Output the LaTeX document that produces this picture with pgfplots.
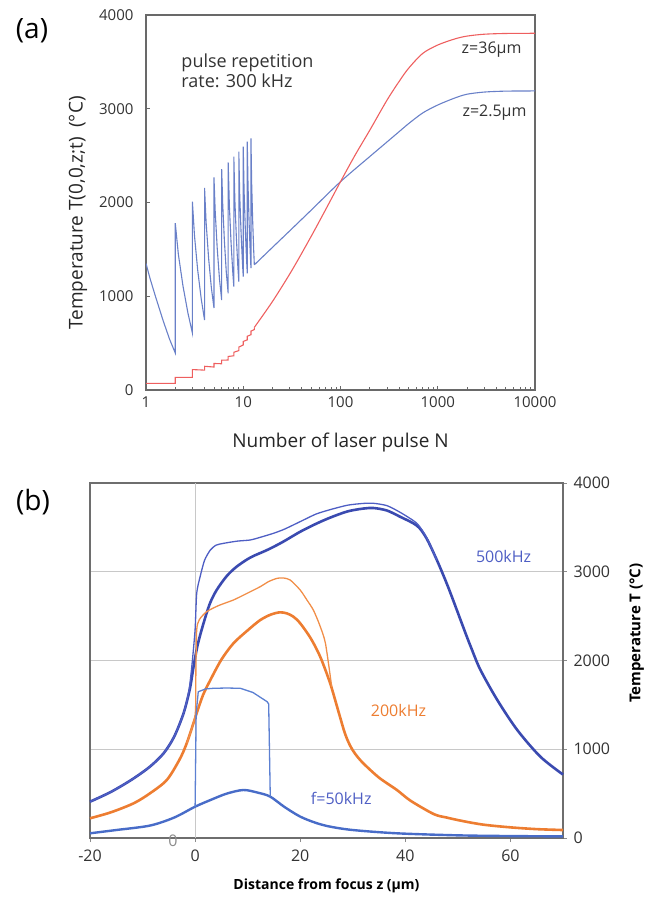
\documentclass[border=0pt]{standalone}
\usepackage{fontspec}
\setmainfont{Open Sans}
\usepackage{pgfplots}
\pgfplotsset{compat=1.18}

\definecolor{axgray}{RGB}{105,105,105}
\definecolor{gridgray}{RGB}{200,200,200}
\definecolor{tblue}{RGB}{105,128,200}
\definecolor{tred}{RGB}{238,95,95}
\definecolor{bdark}{RGB}{58,74,176}
\definecolor{bthin}{RGB}{78,94,196}
\definecolor{blight}{RGB}{92,128,210}
\definecolor{bmid}{RGB}{72,108,200}
\definecolor{othick}{RGB}{237,125,49}
\definecolor{othin}{RGB}{241,142,72}

\newcommand{\fs}[1]{\fontsize{#1}{#1}\selectfont}

% (a) temperature vs pulse number: pulse train, then smooth rise
\pgfplotstableread{
N T
1 1350
1.1 1190
1.25 1000
1.5 740
1.75 540
2 395
2 1780
2.15 1450
2.4 1110
2.7 820
3 608
3 2009
3.15 1650
3.4 1280
3.7 970
4 747
4 2155
4.15 1790
4.4 1410
4.7 1090
5 875
5 2268
5.15 1900
5.4 1510
5.7 1180
6 960
6 2357
6.15 1980
6.4 1590
6.7 1250
7 1032
7 2428
7.2 1964
7.5 1566
7.8 1261
8 1102
8 2489
8.2 2022
8.5 1623
8.8 1316
9 1156
9 2542
9.2 2075
9.5 1676
9.8 1369
10 1209
10 2595
10.2 2122
10.5 1717
10.8 1406
11 1244
11 2649
11.2 2177
11.5 1772
11.8 1462
12 1300
12 2684
12.2 2211
12.5 1806
12.8 1495
13 1335
}\zsmallA

\pgfplotstableread{
N T
13 1335
20 1522
30 1697
50 1919
100 2222
200 2490
300 2645
400 2755
500 2840
700 2955
1000 3040
1500 3115
2000 3155
3000 3178
5000 3188
10000 3190
}\zsmallB

\pgfplotstableread{
N T
1 71
2 71
2 135
3 135
3 218
4 212
4 253
5 245
5 283
6 280
6 318
7 320
7 358
8 365
8 403
9 420
9 458
10 480
10 518
11 535
11 573
12 590
12 628
13 645
13 668
}\zlargeA

\pgfplotstableread{
N T
13 668
20 945
31.6 1275
50 1640
70.8 1930
100 2222
141 2504
200 2771
300 3090
400 3290
500 3430
700 3590
1000 3680
1500 3745
2000 3775
3000 3795
5000 3803
10000 3805
}\zlargeB

% (b) temperature vs distance from focus
\pgfplotstableread{
z T
-20 409
-16 520
-12 660
-8.6 804
-6 954
-4 1140
-2.2 1405
-1 1680
-0.3 1930
0.5 2180
1.6 2419
2.8 2640
4.1 2794
6 2950
7.9 3057
10.5 3160
13.7 3245
16.5 3330
20 3451
23 3540
25.7 3610
29 3680
32 3712
34 3718
36.5 3690
39 3620
42.2 3520
44 3380
46 3132
48 2850
49.8 2569
51.5 2300
52.7 2118
54.3 1893
57.5 1555
61.3 1217
65.7 916
70 715
}\fivethick

\pgfplotstableread{
z T
-20 409
-16 520
-12 660
-8.6 804
-6 954
-4 1140
-2.2 1405
-1.2 1650
-0.6 1950
0 2350
0.3 2757
0.95 2944
1.8 3130
2.9 3245
4 3300
5.4 3320
8 3345
10.5 3358
12.5 3390
14.9 3433
17 3480
20 3565
23 3650
25.7 3700
29 3750
32 3770
34 3771
36.5 3745
39 3670
42.2 3546
44 3390
46 3132
}\fivethin

\pgfplotstableread{
z T
-20 222
-16 290
-11.7 391
-8.6 503
-5.4 653
-3 880
-1.6 1067
0.3 1405
1.5 1610
2.9 1780
5 2010
7.3 2194
10 2340
12.4 2456
14.5 2520
16.2 2543
17.5 2530
18.7 2494
20 2419
22 2250
23.8 2043
25.7 1743
27.3 1420
28.5 1180
29.5 1040
30.5 945
32 842
35 680
38.4 541
41 420
45.4 270
47.9 230
51 190
54.9 150
60 120
65 100
70 90
}\twothick

\pgfplotstableread{
z T
-1.6 1067
0 1380
0.15 1900
0.3 2344
0.8 2460
2.2 2550
4.5 2620
7.3 2682
10 2760
12.4 2832
14 2890
15.6 2926
16.8 2930
18.1 2907
20 2794
21.3 2680
22.5 2569
23.7 2400
24.8 2194
26 1700
}\twothin

\pgfplotstableread{
z T
0 353
0.2 1400
0.6 1648
2 1680
3.5 1687
6 1690
8.6 1687
11 1640
13.7 1536
14 1510
14.3 466
}\fiftythin

\pgfplotstableread{
z T
-20 53
-15 90
-8.6 140
-4 230
0 353
3 430
6 500
9.2 541
12 510
14.3 466
17 350
20 241
23 170
25.7 128
30 90
38.4 53
50 30
60 22
70 18
}\fiftythick

\begin{document}
\begin{tikzpicture}
\useasboundingbox (0pt,0pt) rectangle (656pt,-897pt);

\node[font=\fs{28}] at (32pt,-31pt) {(a)};
\node[font=\fs{28}] at (33pt,-502pt) {(b)};

\begin{axis}[
  at={(146pt,-390pt)}, anchor=south west, scale only axis,
  width=389pt, height=375pt,
  xmode=log, xmin=1, xmax=10000, ymin=0, ymax=4000,
  xtick={1,10,100,1000,10000}, xticklabels={1,10,100,1000,10000},
  minor xtick={2,3,4,5,6,7,8,9,20,30,40,50,60,70,80,90,200,300,400,500,600,700,800,900,2000,3000,4000,5000,6000,7000,8000,9000},
  ytick={0,1000,2000,3000,4000}, yticklabels={0,1000,2000,3000,4000},
  xtick pos=bottom, ytick pos=left, tick align=inside,
  major tick length=4pt, minor tick length=3pt,
  every tick/.style={axgray, line width=0.8pt},
  axis line style={axgray, line width=1.3pt},
  tick label style={font=\fs{15}, text=black!80},
  xticklabel style={yshift=-3pt},
  yticklabel style={xshift=-9pt},
  xlabel={Number of laser pulse N},
  ylabel={Temperature T(0,0,z;t)\enspace(°C)},
  label style={font=\fs{19}, text=black!85},
  xlabel style={at={(axis description cs:0.5,-0.141)}, anchor=center},
  ylabel style={at={(axis description cs:-0.175,0.472)}, anchor=center},
]
\addplot[tblue, line width=1.1pt] table[x=N, y=T] {\zsmallA};
\addplot[tblue, line width=1.1pt, smooth] table[x=N, y=T] {\zsmallB};
\addplot[tred, line width=1.1pt] table[x=N, y=T] {\zlargeA};
\addplot[tred, line width=1.1pt, smooth] table[x=N, y=T] {\zlargeB};
\node[anchor=west, align=left, font=\fs{18}, text=black!80, text depth=0pt]
  at (axis cs:2.13,3403) {pulse repetition\\[2pt]rate: 300 kHz};
\node[anchor=east, font=\fs{16}, text=black!80] at (axis cs:7890,3627) {z=36µm};
\node[anchor=east, font=\fs{16}, text=black!80] at (axis cs:8890,2955) {z=2.5µm};
\end{axis}

\begin{axis}[
  at={(90pt,-838pt)}, anchor=south west, scale only axis,
  width=473pt, height=355pt,
  xmin=-20, xmax=70, ymin=0, ymax=4000,
  xtick={-20,0,20,40,60}, xticklabels={-20,0,20,40,60},
  ytick={0,1000,2000,3000,4000}, yticklabels={0,1000,2000,3000,4000},
  xtick pos=bottom, ytick pos=right, yticklabel pos=right, tick align=outside,
  major tick length=4pt,
  every tick/.style={gridgray!70!black, line width=0.8pt},
  ymajorgrids, grid style={gridgray, line width=0.9pt},
  extra x ticks={0}, extra x tick labels={}, extra x tick style={grid=major, major tick length=0pt},
  axis line style={gridgray!55!black, line width=1.2pt},
  tick label style={font=\fs{16}, text=black!80},
  xticklabel style={yshift=-4pt},
  yticklabel style={xshift=3pt},
  xlabel={\bfseries Distance from focus z (µm)},
  ylabel={\bfseries Temperature T (°C)},
  xlabel style={font=\fs{14}, at={(axis description cs:0.5,-0.135)}, anchor=center},
  ylabel style={font=\fs{15}, at={(axis description cs:1.156,0.577)}, anchor=center, rotate=0},
  clip=false,
]
\addplot[bdark, line width=2.6pt, smooth, tension=0.5] table[x=z, y=T] {\fivethick};
\addplot[bthin, line width=1.3pt, smooth, tension=0.4] table[x=z, y=T] {\fivethin};
\addplot[othick, line width=2.6pt, smooth, tension=0.5] table[x=z, y=T] {\twothick};
\addplot[othin, line width=1.3pt, smooth, tension=0.4] table[x=z, y=T] {\twothin};
\addplot[bmid, line width=2.4pt, smooth, tension=0.5] table[x=z, y=T] {\fiftythick};
\addplot[blight, line width=1.3pt] table[x=z, y=T] {\fiftythin};
\node[font=\fs{16}, text=bthin] at (axis cs:58.7,3170) {500kHz};
\node[font=\fs{16}, text=othick] at (axis cs:38.7,1442) {200kHz};
\node[font=\fs{16}, text=bthin] at (axis cs:27.8,450) {f=50kHz};
\node[font=\fs{16}, text=black!45] at (axis cs:-4.2,-30) {0};
\end{axis}
\end{tikzpicture}
\end{document}
